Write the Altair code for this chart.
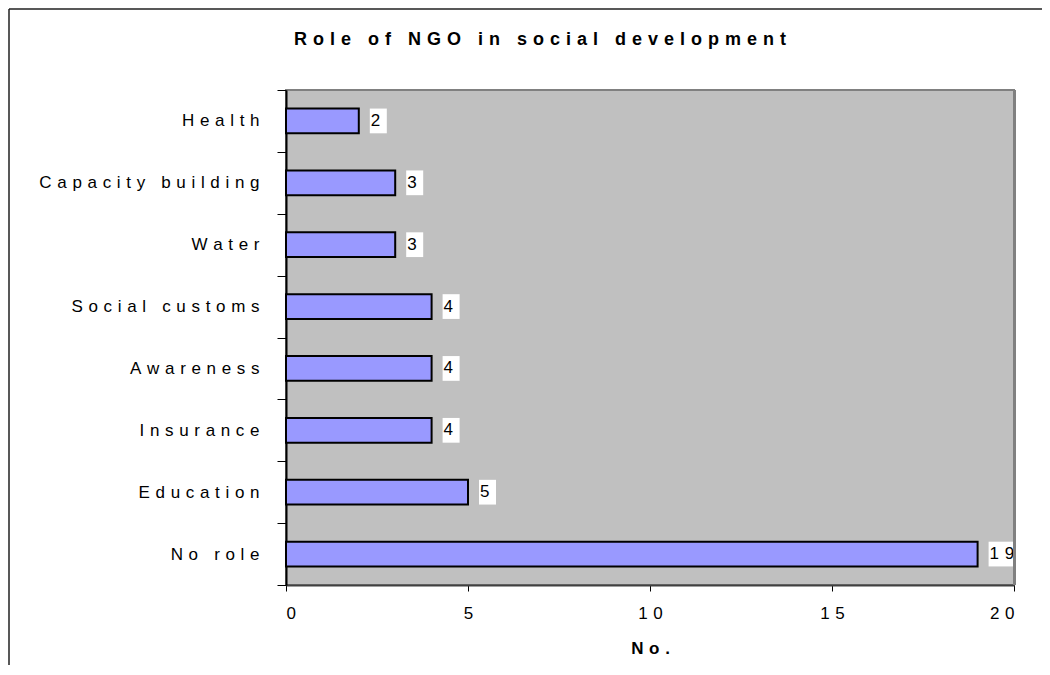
import altair as alt
import pandas as pd

categories = ["Health", "Capacity building", "Water", "Social customs",
              "Awareness", "Insurance", "Education", "No role"]
counts = [2, 3, 3, 4, 4, 4, 5, 19]
x_ticks = [0, 5, 10, 15, 20]
title_text = "Role of NGO in social development"
x_title = "No."

GAP = "\u2004"  # letter spacing imitation


def spaced(s):
    return GAP.join(list(s))


df = pd.DataFrame({"role": categories, "n": counts})

W, H = 728, 495
FONT = "Liberation Sans"

y_axis = alt.Axis(
    labelExpr=f"join(split(datum.label, ''), '{GAP}')",
    tickBand="extent", ticks=True, tickSize=9, tickColor="black", tickWidth=1,
    domainColor="black", domainWidth=2, labelPadding=18, labelFontSize=17,
    labelColor="black", labelFont=FONT, labelLimit=500, title=None,
)
y_main = alt.Y("role:N", sort=categories, title=None,
               scale=alt.Scale(paddingInner=0, paddingOuter=0), axis=y_axis)
y_plain = alt.Y("role:N", sort=categories)

x_axis = alt.Axis(
    values=x_ticks, grid=False, tickSize=6, tickColor="black", tickWidth=1,
    domainColor="#404040", domainWidth=2,
    labelExpr=f"join(split(datum.label, ''), '{GAP}')",
    labelFont=FONT, labelFontSize=17, labelColor="black",
    labelBaseline="alphabetic", labelPadding=27,
    titleFont=FONT, titleFontSize=17, titleFontWeight="bold",
    titleColor="black", titleBaseline="alphabetic", titleY=68,
)
x_main = alt.X("n:Q", title=spaced(x_title),
               scale=alt.Scale(domain=[0, 20], nice=False, zero=True), axis=x_axis)
x_plain = alt.X("n:Q")

base = alt.Chart(df)

bars = base.mark_bar(color="#9999FF", stroke="black", strokeWidth=2,
                     height=alt.RelativeBandSize(0.4)).encode(x=x_main, y=y_main)

box1 = base.transform_filter("datum.n < 10").mark_bar(
    color="white", xOffset=11, x2Offset=28, height=alt.RelativeBandSize(0.4)
).encode(x=x_plain, x2="n:Q", y=y_plain)

box2 = base.transform_filter("datum.n >= 10").mark_bar(
    color="white", xOffset=11, x2Offset=37, height=alt.RelativeBandSize(0.4)
).encode(x=x_plain, x2="n:Q", y=y_plain)

labels = base.transform_calculate(
    lab=f"join(split(toString(datum.n), ''), '{GAP}')"
).mark_text(align="left", baseline="middle", dx=12, fontSize=17, font=FONT,
            color="black").encode(x=x_plain, y=y_plain, text="lab:N")

one = alt.Chart(pd.DataFrame({"k": [0]}))
right_edge = one.mark_rule(color="#808080", strokeWidth=3).encode(
    x=alt.value(W + 0.5), y=alt.value(0), y2=alt.value(H))
frame_left = one.mark_rule(color="#202020", strokeWidth=1.5).encode(
    x=alt.value(-277), y=alt.value(-81), y2=alt.value(600))
frame_top = one.mark_rule(color="#202020", strokeWidth=1.5).encode(
    x=alt.value(-277), x2=alt.value(800), y=alt.value(-81))
title_mark = one.mark_text(
    font=FONT, fontSize=18, fontWeight="bold", color="black",
    align="center", baseline="alphabetic"
).encode(x=alt.value(540 - 286), y=alt.value(45 - 90), text=alt.value(spaced(title_text)))

chart = alt.layer(bars, box1, box2, labels, right_edge, frame_left, frame_top,
                  title_mark).properties(
    width=W, height=H,
    autosize=alt.AutoSizeParams(type="none"),
    padding={"left": 278, "top": 82, "right": 28, "bottom": 80},
    background="white",
).configure_view(stroke="#808080", strokeWidth=2, fill="#C0C0C0")

chart.save("out.html", embed_options={"renderer": "svg", "actions": False})
